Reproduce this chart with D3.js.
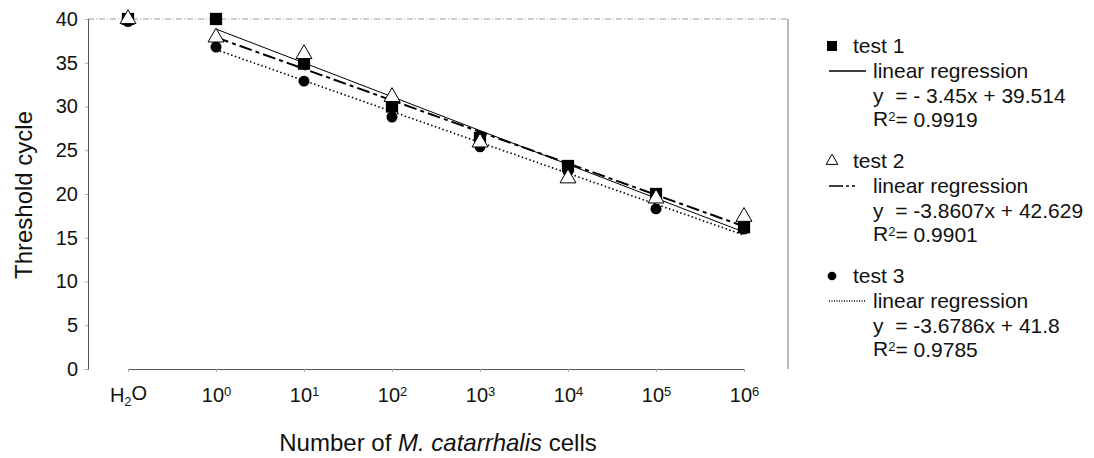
<!DOCTYPE html>
<html>
<head>
<meta charset="utf-8">
<script src="https://cdn.jsdelivr.net/npm/d3@7"></script>
<style>
  body { margin: 0; background: #fff; }
  svg { font-family: "Liberation Sans", Arial, sans-serif; }
</style>
</head>
<body>
<div id="graph"></div>
<script>
// Threshold cycle vs number of cells, three tests with their regression lines

const ML = 88  // left margin
const MT = 19  // top margin
const W  = 700 // plot width
const H  = 350 // plot height

// data
const categories = ['H2O', '1e0', '1e1', '1e2', '1e3', '1e4', '1e5', '1e6']
const test1 = [40.0, 40.0, 34.9, 30.0, 26.4, 23.2, 20.0, 16.2]
const test2 = [40.0, 37.9, 36.0, 31.1, 25.9, 21.8, 19.5, 17.4]
const test3 = [39.7, 36.8, 32.9, 28.8, 25.4, 22.6, 18.3, 16.0]
// regression lines as drawn: value at 10^0 and at 10^6
const fit1 = [38.85, 15.65]
const fit2 = [37.9, 16.3]
const fit3 = [36.5, 15.3]
const yTicks = [0, 5, 10, 15, 20, 25, 30, 35, 40]
const tickLabels = [['H', '2', 'O'], ['10', '0'], ['10', '1'], ['10', '2'],
                    ['10', '3'], ['10', '4'], ['10', '5'], ['10', '6']]
const seriesNames = ['test 1', 'test 2', 'test 3']
const fitName = 'linear regression'
const equations = ['y\u00a0 = - 3.45x + 39.514', 'y\u00a0 = -3.8607x + 42.629', 'y\u00a0 = -3.6786x + 41.8']
const r2 = ['0.9919', '0.9901', '0.9785']

const xsc = d3.scalePoint(categories, [40, 656])
const ysc = d3.scaleLinear([0, 40], [H, 0])

const svg = d3.select('#graph').append('svg').attr('width', 1094).attr('height', 458)
const g = svg.append('g').attr('transform', `translate(${ML},${MT})`)

// frame: light right/top edges
g.append('line').attr('x1', 0).attr('x2', W).attr('y1', 0).attr('y2', 0)
  .attr('stroke', '#999').attr('stroke-dasharray', '6,2,1,2')
g.append('line').attr('x1', W).attr('x2', W).attr('y1', 0).attr('y2', H)
  .attr('stroke', '#777')

const yAx = g.append('g').call(d3.axisLeft(ysc).tickValues(yTicks).tickSize(3).tickPadding(7))
yAx.select('.domain').attr('stroke', '#555')
yAx.selectAll('.tick line').attr('stroke', '#aaa')
yAx.selectAll('text').attr('font-size', 20).attr('fill', '#111').attr('font-family', null)

const xAx = g.append('g').attr('transform', `translate(0,${H})`)
  .call(d3.axisBottom(xsc).tickSize(3).tickPadding(16).tickFormat(() => ''))
xAx.select('.domain').attr('stroke', '#555')
xAx.selectAll('.tick line').attr('stroke', '#aaa')
xAx.selectAll('text').attr('font-size', 20).attr('fill', '#111').attr('font-family', null)
  .each(function(d, i) {
    const t = d3.select(this), lab = tickLabels[i]
    t.append('tspan').text(lab[0])
    if (lab.length === 3) {
      t.append('tspan').attr('font-size', 13).attr('dy', '0.3em').text(lab[1])
      t.append('tspan').attr('dy', '-0.3em').text(lab[2])
    } else {
      t.append('tspan').attr('font-size', 13).attr('dy', '-0.45em').text(lab[1])
    }
  })

// axis titles
svg.append('text').attr('transform', 'translate(26,195) rotate(-90)')
  .attr('text-anchor', 'middle').attr('dominant-baseline', 'middle')
  .attr('font-size', 24).attr('fill', '#111').text('Threshold cycle')
const xt = svg.append('text').attr('x', ML + W / 2).attr('y', 451)
  .attr('text-anchor', 'middle').attr('font-size', 24).attr('fill', '#111')
xt.append('tspan').text('Number of ')
xt.append('tspan').attr('font-style', 'italic').text('M. catarrhalis')
xt.append('tspan').text(' cells')

// regression lines
const dashes = [null, '13,4,4,4', '1.5,2.5']
const widths = [1, 2, 1.6]
;[fit1, fit2, fit3].forEach((f, k) => {
  g.append('line')
    .attr('x1', xsc(categories[1])).attr('y1', ysc(f[0]))
    .attr('x2', xsc(categories[7])).attr('y2', ysc(f[1]))
    .attr('stroke', '#000').attr('stroke-width', widths[k])
    .attr('stroke-dasharray', dashes[k])
})

// markers
const sym = [d3.symbolSquare, d3.symbolTriangle, d3.symbolCircle]
const symSize = [150, 110, 95]
const fills = ['#000', '#fff', '#000']
function marker(sel, k, s) {
  sel.attr('d', d3.symbol(sym[k], s || symSize[k]))
    .attr('fill', fills[k]).attr('stroke', '#000').attr('stroke-width', k === 1 ? 1 : 0)
}
;[[test3, 2], [test1, 0], [test2, 1]].forEach(([vals, k]) => {
  g.selectAll(null).data(vals).join('path')
    .attr('transform', (d, i) => `translate(${xsc(categories[i])},${ysc(d)})`)
    .call(marker, k)
})

// legend
const lg = svg.append('g').attr('font-size', 21).attr('fill', '#111')
seriesNames.forEach((name, k) => {
  const y0 = 46 + k * 115
  lg.append('path').attr('transform', `translate(832,${y0})`).call(marker, k, [100, 60, 60][k])
  lg.append('text').attr('x', 853).attr('y', y0).attr('dy', '0.35em').text(name)
  lg.append('line').attr('x1', 829).attr('x2', 866).attr('y1', y0 + 25).attr('y2', y0 + 25)
    .attr('stroke', '#000').attr('stroke-width', k === 0 ? 1.5 : 1.3)
    .attr('stroke-dasharray', [null, '14,3,3,3,3', '1,1.5'][k])
  lg.append('text').attr('x', 873).attr('y', y0 + 25).attr('dy', '0.35em').text(fitName)
  lg.append('text').attr('x', 873).attr('y', y0 + 50).attr('dy', '0.35em').text(equations[k])
  const rt = lg.append('text').attr('x', 873).attr('y', y0 + 73).attr('dy', '0.35em')
  rt.append('tspan').text('R')
  rt.append('tspan').attr('font-size', 13).attr('dy', '-0.45em').text('2')
  rt.append('tspan').attr('dy', '0.3em').text('= ' + r2[k])
})
</script>
</body>
</html>
